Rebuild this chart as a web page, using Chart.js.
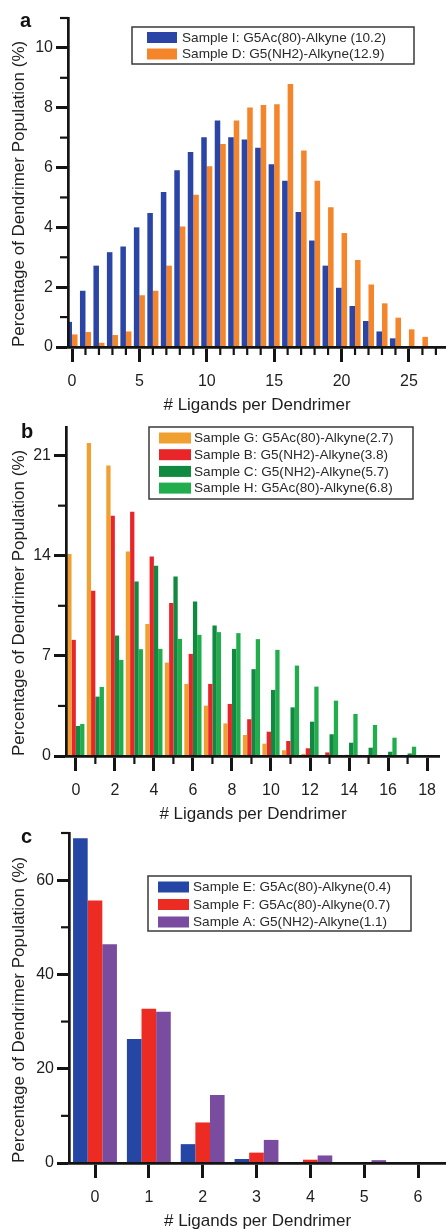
<!DOCTYPE html>
<html><head><meta charset="utf-8">
<script src="https://cdn.jsdelivr.net/npm/chart.js@4.4.1/dist/chart.umd.min.js"></script>
<style>
html,body{margin:0;padding:0;background:#fff;width:446px;height:1229px;overflow:hidden;}
.panel{position:absolute;left:0;width:446px;}
canvas{display:block;}
</style></head><body>
<div class="panel" style="top:0px"><canvas id="ca" width="446" height="417"></canvas></div>
<div class="panel" style="top:410px"><canvas id="cb" width="446" height="416"></canvas></div>
<div class="panel" style="top:800px"><canvas id="cc" width="446" height="433"></canvas></div>
<script>
// ---------- DATA ----------
// Panel a
const aCategories = [0,1,2,3,4,5,6,7,8,9,10,11,12,13,14,15,16,17,18,19,20,21,22,23,24,25,26];
const aLabels = ['Sample I: G5Ac(80)-Alkyne (10.2)', 'Sample D: G5(NH2)-Alkyne(12.9)'];
const aSampleI = [0.84,1.88,2.72,3.17,3.36,4.00,4.48,5.18,5.91,6.52,7.01,7.57,7.01,6.94,6.66,6.11,5.56,4.51,3.56,2.72,1.98,1.37,0.87,0.52,0.29,0,0];
const aSampleD = [0.42,0.50,0.14,0.40,0.52,1.73,1.88,2.72,4.03,5.09,6.04,6.79,7.57,8.01,8.09,8.12,8.79,6.57,5.56,4.67,3.81,2.91,2.09,1.46,0.98,0.59,0.34];
const aXTicks = [0,5,10,15,20,25];
const aYTicks = [0,2,4,6,8,10];

// Panel b
const bCategories = [0,1,2,3,4,5,6,7,8,9,10,11,12,13,14,15,16,17];
const bLabels = ['Sample G: G5Ac(80)-Alkyne(2.7)', 'Sample B: G5(NH2)-Alkyne(3.8)', 'Sample C: G5(NH2)-Alkyne(5.7)', 'Sample H: G5Ac(80)-Alkyne(6.8)'];
const bSampleG = [14.12,21.89,20.30,14.30,9.22,6.53,5.04,3.52,2.28,1.47,0.86,0.40,0.15,0.05,0,0,0,0];
const bSampleB = [8.12,11.55,16.80,17.08,13.95,10.69,7.14,5.04,3.64,2.57,1.70,1.05,0.54,0.25,0.08,0,0,0];
const bSampleC = [2.10,4.15,8.42,12.20,13.30,12.55,10.80,9.12,7.49,6.07,4.62,3.40,2.40,1.52,0.93,0.58,0.30,0.18];
const bSampleH = [2.24,4.83,6.72,7.47,7.49,8.19,8.47,8.66,8.59,8.17,7.42,6.32,4.85,3.87,2.94,2.17,1.28,0.65];
const bXTicks = [0,2,4,6,8,10,12,14,16,18];
const bYTicks = [0,7,14,21];

// Panel c
const cCategories = [0,1,2,3,4,5,6];
const cLabels = ['Sample E: G5Ac(80)-Alkyne(0.4)', 'Sample F: G5Ac(80)-Alkyne(0.7)', 'Sample A: G5(NH2)-Alkyne(1.1)'];
const cSampleE = [68.9,26.3,4.0,0.85,0.1,0,0];
const cSampleF = [55.7,32.7,8.6,2.2,0.7,0.1,0];
const cSampleA = [46.4,32.1,14.4,4.9,1.6,0.6,0];
const cXTicks = [0,1,2,3,4,5,6];
const cYTicks = [0,20,40,60];

// ---------- STYLE ----------
const FONT = "'Liberation Sans', Arial, Helvetica, sans-serif";
const AXIS = '#141414';
const TEXT = '#1e1e1e';

const decor = {
  id: 'decor',
  afterDraw(chart, args, o) {
    const ctx = chart.ctx;
    ctx.save();
    // minor ticks
    (o.minor || []).forEach(m => {
      const s = chart.scales[m.axis];
      ctx.strokeStyle = AXIS; ctx.lineWidth = m.width; ctx.lineCap = 'butt';
      const k0 = Math.ceil(s.min / m.step - 1e-9), k1 = Math.floor(s.max / m.step + 1e-9);
      for (let k = k0; k <= k1; k++) {
        const v = k * m.step;
        const r = v / m.major;
        if (Math.abs(r - Math.round(r)) < 1e-6) continue;
        const p = s.getPixelForValue(v);
        ctx.beginPath();
        if (s.isHorizontal()) { ctx.moveTo(p, s.top); ctx.lineTo(p, s.top + m.length); }
        else { ctx.moveTo(s.right, p); ctx.lineTo(s.right - m.length, p); }
        ctx.stroke();
      }
    });
    // legend box
    const L = o.legend;
    if (L) {
      ctx.fillStyle = '#fff';
      ctx.fillRect(L.x, L.y, L.w, L.h);
      ctx.strokeStyle = '#3a3a3a'; ctx.lineWidth = 1.5;
      ctx.strokeRect(L.x, L.y, L.w, L.h);
      ctx.font = L.fontSize + 'px ' + FONT;
      ctx.textBaseline = 'middle'; ctx.textAlign = 'left';
      chart.data.datasets.forEach((ds, i) => {
        const cy = L.firstRow + i * L.rowGap;
        ctx.fillStyle = ds.backgroundColor;
        ctx.fillRect(L.swX, cy - L.swH / 2, L.swW, L.swH);
        ctx.fillStyle = '#2a2a2a';
        ctx.fillText(ds.label, L.textX, cy + 0.5);
      });
    }
    // panel letter
    if (o.letter) {
      ctx.fillStyle = '#111';
      ctx.font = 'bold ' + o.letter.size + 'px ' + FONT;
      ctx.textBaseline = 'alphabetic'; ctx.textAlign = 'left';
      ctx.fillText(o.letter.text, o.letter.x, o.letter.y);
    }
    ctx.restore();
  }
};

function makeChart(id, cats, series, cfg) {
  return new Chart(document.getElementById(id), {
    type: 'bar',
    data: {
      datasets: series.map(s => ({
        label: s.label,
        data: cats.map((c, i) => ({x: c, y: s.values[i]})),
        backgroundColor: s.color,
        borderWidth: 0,
        categoryPercentage: cfg.catPct,
        barPercentage: 1
      }))
    },
    options: {
      responsive: false,
      animation: false,
      events: [],
      layout: {padding: {left: 0, right: 0, top: cfg.top, bottom: 0}},
      plugins: {
        legend: {display: false},
        tooltip: {enabled: false},
        decor: {minor: cfg.minor, legend: cfg.legend, letter: cfg.letter}
      },
      scales: {
        x: {
          type: 'linear', min: cfg.xMin, max: cfg.xMax, offset: false,
          afterBuildTicks: s => { s.ticks = cfg.xTicks.map(v => ({value: v})); },
          ticks: {includeBounds: false, autoSkip: false, maxRotation: 0, padding: 10,
                  font: {family: FONT, size: 16}, color: TEXT},
          grid: {drawOnChartArea: false, tickLength: 15, tickWidth: 3, tickColor: AXIS, z: 1, offset: false},
          border: {color: AXIS, width: 2.7, z: 1},
          title: {display: true, text: '# Ligands per Dendrimer', color: TEXT,
                  font: {family: FONT, size: 17}, padding: {top: 0, bottom: 1}},
          afterFit: s => { s.height = 70; }
        },
        y: {
          type: 'linear', min: 0, max: cfg.yMax,
          afterBuildTicks: s => { s.ticks = cfg.yTicks.map(v => ({value: v})); },
          ticks: {includeBounds: false, autoSkip: false, padding: 3,
                  font: {family: FONT, size: 16}, color: TEXT},
          grid: {drawOnChartArea: false, tickLength: 12, tickWidth: 3, tickColor: AXIS, z: 1},
          border: {color: AXIS, width: 2.7, z: 1},
          title: {display: true, text: 'Percentage of Dendrimer Population (%)', color: TEXT, align: 'start',
                  font: {family: FONT, size: 17}, padding: {top: 9.5, bottom: 0}},
          afterFit: s => { s.width = cfg.left; }
        }
      }
    },
    plugins: [decor]
  });
}

// Panel a
makeChart('ca', aCategories, [
  {label: aLabels[0], values: aSampleI, color: '#2b45a6'},
  {label: aLabels[1], values: aSampleD, color: '#f5852b'}
], {
  top: 18, left: 68, xMin: -0.297, xMax: 27.75, yMax: 11, catPct: 0.82,
  xTicks: aXTicks, yTicks: aYTicks,
  minor: [{axis: 'x', step: 1, major: 5, length: 8, width: 2.2}, {axis: 'y', step: 1, major: 2, length: 8, width: 2.2}],
  legend: {x: 132, y: 27, w: 282, h: 37, firstRow: 37.5, rowGap: 16.5, swX: 147, swW: 30, swH: 11, textX: 182, fontSize: 13.6},
  letter: {text: 'a', x: 20, y: 27, size: 20}
});

// Panel b
makeChart('cb', bCategories, [
  {label: bLabels[0], values: bSampleG, color: '#f0a030'},
  {label: bLabels[1], values: bSampleB, color: '#e8262a'},
  {label: bLabels[2], values: bSampleC, color: '#0f8a40'},
  {label: bLabels[3], values: bSampleH, color: '#22ad4c'}
], {
  top: 17, left: 66, xMin: -0.504, xMax: 18.66, yMax: 23, catPct: 0.88,
  xTicks: bXTicks, yTicks: bYTicks,
  minor: [{axis: 'x', step: 1, major: 2, length: 8, width: 2.2}, {axis: 'y', step: 3.5, major: 7, length: 8, width: 2.2}],
  legend: {x: 149, y: 17, w: 264, h: 72, firstRow: 28, rowGap: 16.7, swX: 159, swW: 32, swH: 11, textX: 194, fontSize: 13.6},
  letter: {text: 'b', x: 21, y: 28, size: 20}
});

// Panel c
makeChart('cc', cCategories, [
  {label: cLabels[0], values: cSampleE, color: '#2646a5'},
  {label: cLabels[1], values: cSampleF, color: '#ec2b23'},
  {label: cLabels[2], values: cSampleA, color: '#7a4c9f'}
], {
  top: 33, left: 69, xMin: -0.483, xMax: 6.52, yMax: 70, catPct: 0.815,
  xTicks: cXTicks, yTicks: cYTicks,
  minor: [{axis: 'y', step: 10, major: 20, length: 8, width: 2.2}],
  legend: {x: 148, y: 76, w: 263, h: 55, firstRow: 87, rowGap: 17.5, swX: 158, swW: 31, swH: 11, textX: 193, fontSize: 13.6},
  letter: {text: 'c', x: 21, y: 43, size: 20}
});
</script>
</body></html>
